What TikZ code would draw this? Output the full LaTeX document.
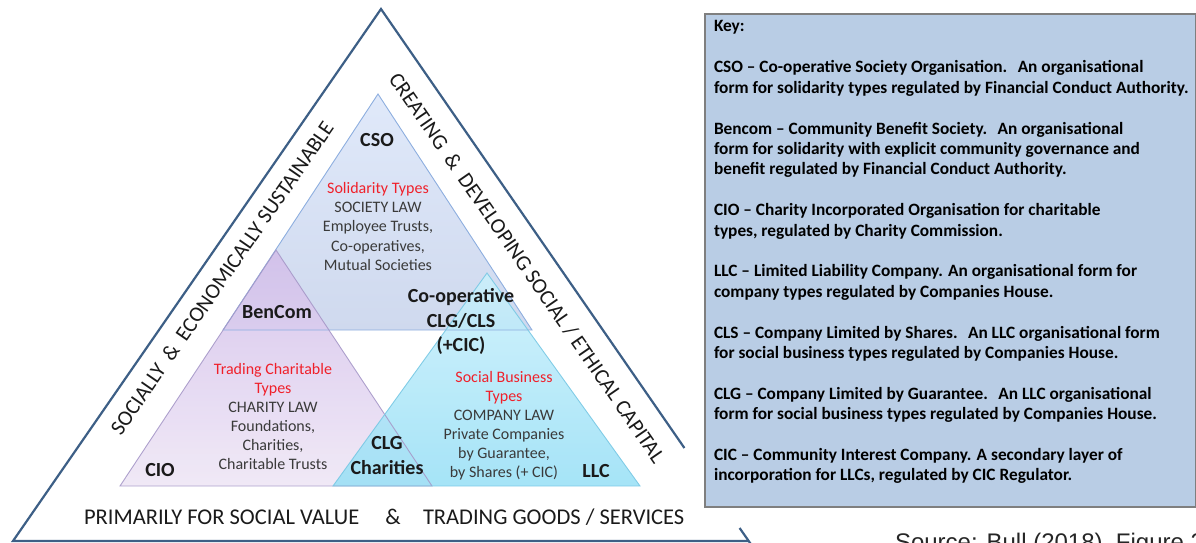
\documentclass[tikz,border=0pt]{standalone}
\usepackage{fontspec}
\setmainfont{Carlito}
\newfontfamily\srcfont{Liberation Sans}
\definecolor{outerline}{HTML}{3D5F86}
\definecolor{keyfill}{HTML}{B9CDE5}
\definecolor{keyline}{HTML}{7F7F7F}
\definecolor{redtxt}{HTML}{F0202A}
\definecolor{bodytxt}{HTML}{3A3A3A}
\definecolor{lbltxt}{HTML}{1A1A1A}
\definecolor{csoTop}{HTML}{E0E9FA}
\definecolor{csoMid}{HTML}{AFC7F1}
\definecolor{csoBot}{HTML}{CFD9EE}
\definecolor{cioTop}{HTML}{D2BEEA}
\definecolor{cioMid}{HTML}{D6C3EA}
\definecolor{cioBot}{HTML}{EEE6F5}
\definecolor{llcTop}{HTML}{CBF0FB}
\definecolor{llcMid}{HTML}{B0E8F9}
\definecolor{llcBot}{HTML}{96DFF6}
\definecolor{csoEdge}{HTML}{8DAEDF}
\definecolor{cioEdge}{HTML}{A698C8}
\definecolor{llcEdge}{HTML}{78C8E4}
\begin{document}
\begin{tikzpicture}[x=1pt,y=-1pt,
  every node/.style={inner sep=0pt, outer sep=0pt},
  lbl/.style={font=\fontsize{20}{24}\selectfont\bfseries, text=lbltxt, anchor=base},
  body/.style={font=\fontsize{16}{19}\selectfont, text=bodytxt, anchor=base},
  redl/.style={font=\fontsize{16}{19}\selectfont, text=redtxt, anchor=base},
  keytxt/.style={font=\fontsize{17.3}{20}\selectfont\bfseries, anchor=base west, text=black},
  side/.style={font=\fontsize{21.5}{24}\selectfont, text=lbltxt, anchor=center},
  bottomtxt/.style={font=\fontsize{22.5}{26}\selectfont, text=lbltxt, anchor=base west},
  outerstroke/.style={draw=outerline, line width=2.2pt},
  csoedge/.style={draw=csoEdge, line width=0.9pt},
  cioedge/.style={draw=cioEdge, line width=0.9pt, draw opacity=0.9},
  llcedge/.style={draw=llcEdge, line width=0.9pt, draw opacity=0.9}
]
\useasboundingbox (0,0) rectangle (1196,543);

% outer triangle
\coordinate (A) at (381,9);
\coordinate (L) at (13,541);
\coordinate (Rb) at (748,541);
\coordinate (R1) at (684.4,448);
\coordinate (R2) at (739.6,528);
\coordinate (R3) at (751.5,545);
\draw[outerstroke, line join=miter] (R1) -- (A) -- (L) -- (Rb);
\draw[outerstroke] (R2) -- (R3);

% inner triangles
\coordinate (c1) at (378,94);
\coordinate (c2) at (223,330);
\coordinate (c3) at (532,330);
\coordinate (p1) at (276,250);
\coordinate (p2) at (120,486);
\coordinate (p3) at (432,486);
\coordinate (l1) at (487,273);
\coordinate (l2) at (333,486);
\coordinate (l3) at (640,486);

\shade[top color=csoTop, middle color=csoMid, bottom color=csoBot] (c1) -- (c2) -- (c3) -- cycle;
\shade[top color=cioTop, middle color=cioMid, bottom color=cioBot, fill opacity=0.88] (p1) -- (p2) -- (p3) -- cycle;
\shade[top color=llcTop, middle color=llcMid, bottom color=llcBot, fill opacity=0.85] (l1) -- (l2) -- (l3) -- cycle;
\draw[csoedge] (c1) -- (c2) -- (c3) -- cycle;
\draw[cioedge] (p1) -- (p2) -- (p3) -- cycle;
\draw[llcedge] (l1) -- (l2) -- (l3) -- cycle;

% labels
\node[lbl] (cso) at (377,146.5) {CSO};
\node[lbl] (bencom) at (277,318.5) {BenCom};
\node[lbl] (coop1) at (461,302.5) {Co-operative};
\node[lbl] (coop2) at (461,327.5) {CLG/CLS};
\node[lbl] (coop3) at (461,351.5) {(+CIC)};
\node[lbl] (cio) at (160,476.5) {CIO};
\node[lbl] (clg1) at (387,449.5) {CLG};
\node[lbl] (clg2) at (387,474.5) {Charities};
\node[lbl] (llc) at (596,477.5) {LLC};

\node[redl] (sol1) at (378,193) {Solidarity Types};
\node[body] (sol2) at (378,212.4) {SOCIETY LAW};
\node[body] (sol3) at (378,231.8) {Employee Trusts,};
\node[body] (sol4) at (378,251.2) {Co-operatives,};
\node[body] (sol5) at (378,270.6) {Mutual Societies};

\node[redl] (tc1) at (273,374) {Trading Charitable};
\node[redl] (tc2) at (273,393) {Types};
\node[body] (tc3) at (273,412) {CHARITY LAW};
\node[body] (tc4) at (273,431) {Foundations,};
\node[body] (tc5) at (273,450) {Charities,};
\node[body] (tc6) at (273,469) {Charitable Trusts};

\node[redl] (sb1) at (504,382) {Social Business};
\node[redl] (sb2) at (504,401) {Types};
\node[body] (sb3) at (504,420) {COMPANY LAW};
\node[body] (sb4) at (504,439) {Private Companies};
\node[body] (sb5) at (504,458) {by Guarantee,};
\node[body] (sb6) at (504,477) {by Shares (+ CIC)};

% side texts
\node[side, rotate=55.3] (lefttxt) at (222,278) {SOCIALLY\hspace{0.45em}\&\hspace{0.45em}ECONOMICALLY SUSTAINABLE};
\node[side, rotate=-55.35] (righttxt) at (527,268) {CREATING\hspace{0.45em}\&\hspace{0.45em}DEVELOPING SOCIAL / ETHICAL CAPITAL};

% bottom text
\node[bottomtxt] (bot1) at (84,524) {PRIMARILY FOR SOCIAL VALUE};
\node[bottomtxt, anchor=base] (bot2) at (393,524) {\&};
\node[bottomtxt] (bot3) at (423,524) {TRADING GOODS / SERVICES};

% key box
\node[draw=keyline, fill=keyfill, line width=1.5pt, anchor=north west, minimum width=490.5pt, minimum height=493pt] (keybox) at (705,14) {};
\node[keytxt] (k0) at (714,32) {Key:};
\node[keytxt] (k2) at (714,72.8) {CSO – Co-operative Society Organisation.\hspace{0.3em} An organisational};
\node[keytxt] (k3) at (714,93.2) {form for solidarity types regulated by Financial Conduct Authority.};
\node[keytxt] (k5) at (714,134) {Bencom – Community Benefit Society.\hspace{0.3em} An organisational};
\node[keytxt] (k6) at (714,154.4) {form for solidarity with explicit community governance and};
\node[keytxt] (k7) at (714,174.8) {benefit regulated by Financial Conduct Authority.};
\node[keytxt] (k9) at (714,215.6) {CIO – Charity Incorporated Organisation for charitable};
\node[keytxt] (k10) at (714,236) {types, regulated by Charity Commission.};
\node[keytxt] (k12) at (714,276.8) {LLC – Limited Liability Company. An organisational form for};
\node[keytxt] (k13) at (714,297.2) {company types regulated by Companies House.};
\node[keytxt] (k15) at (714,338) {CLS – Company Limited by Shares.\hspace{0.3em} An LLC organisational form};
\node[keytxt] (k16) at (714,358.4) {for social business types regulated by Companies House.};
\node[keytxt] (k18) at (714,399.2) {CLG – Company Limited by Guarantee.\hspace{0.3em} An LLC organisational};
\node[keytxt] (k19) at (714,419.6) {form for social business types regulated by Companies House.};
\node[keytxt] (k21) at (714,460.4) {CIC – Community Interest Company. A secondary layer of};
\node[keytxt] (k22) at (714,480.8) {incorporation for LLCs, regulated by CIC Regulator.};

% source (cut off by the page edge)
\node[font=\srcfont\fontsize{24}{28}\selectfont, anchor=base west, text=black!85] (src) at (895,550) {Source: Bull (2018), Figure 2};
\end{tikzpicture}
\end{document}
